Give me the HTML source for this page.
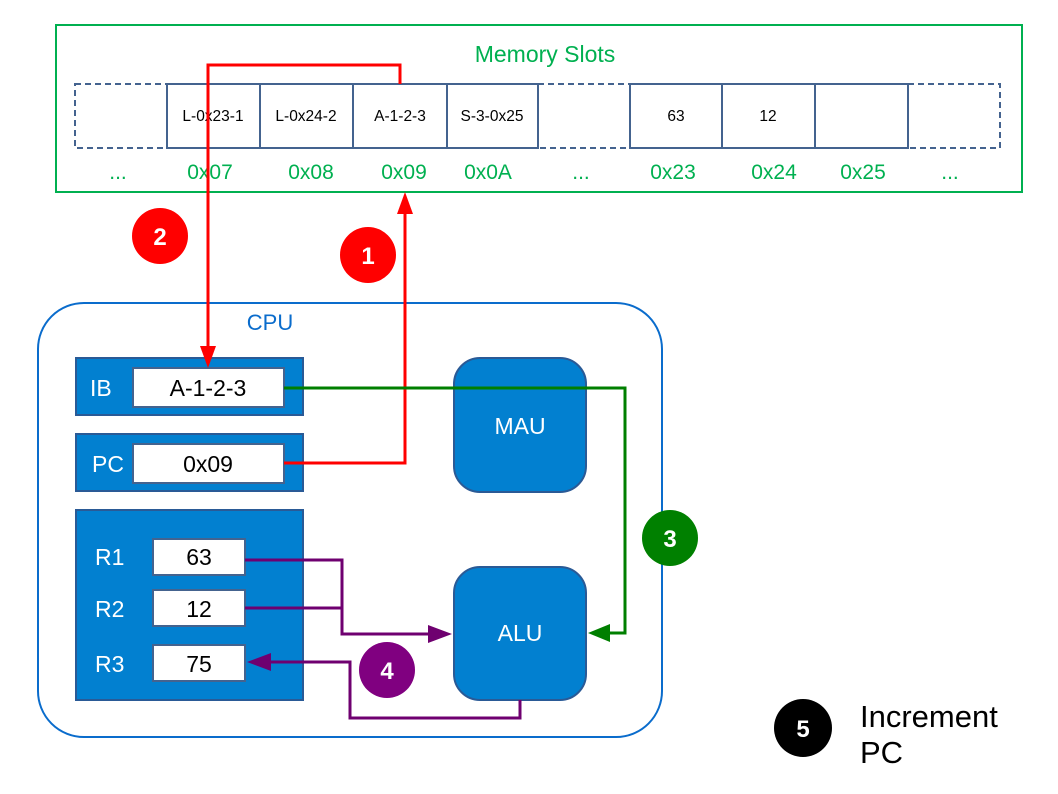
<!DOCTYPE html>
<html><head><meta charset="utf-8"><style>
html,body{margin:0;padding:0;background:#fff;}
svg{display:block;font-family:"Liberation Sans",sans-serif;}
</style></head><body>
<svg width="1058" height="794" viewBox="0 0 1058 794" xmlns="http://www.w3.org/2000/svg">
<!-- Memory -->
<rect x="56" y="25" width="966" height="167" fill="#fff" stroke="#00b050" stroke-width="2"/>
<text x="545" y="62" font-size="23" fill="#00b050" text-anchor="middle">Memory Slots</text>
<g stroke="#44638f" stroke-width="2" fill="#fff">
<rect x="75" y="84" width="92" height="64" stroke-dasharray="6,4"/>
<rect x="538" y="84" width="92" height="64" stroke-dasharray="6,4"/>
<rect x="908" y="84" width="92" height="64" stroke-dasharray="6,4"/>
<rect x="167" y="84" width="93" height="64"/>
<rect x="260" y="84" width="93" height="64"/>
<rect x="353" y="84" width="94" height="64"/>
<rect x="447" y="84" width="91" height="64"/>
<rect x="630" y="84" width="92" height="64"/>
<rect x="722" y="84" width="93" height="64"/>
<rect x="815" y="84" width="93" height="64"/>
</g>
<g font-size="15.5" fill="#000" text-anchor="middle">
<text x="213" y="121">L-0x23-1</text>
<text x="306" y="121">L-0x24-2</text>
<text x="400" y="121">A-1-2-3</text>
<text x="492" y="121">S-3-0x25</text>
<text x="676" y="121">63</text>
<text x="768" y="121">12</text>
</g>
<g font-size="21" fill="#00b050" text-anchor="middle">
<text x="118" y="179">...</text>
<text x="210" y="179">0x07</text>
<text x="311" y="179">0x08</text>
<text x="404" y="179">0x09</text>
<text x="488" y="179">0x0A</text>
<text x="581" y="179">...</text>
<text x="673" y="179">0x23</text>
<text x="774" y="179">0x24</text>
<text x="863" y="179">0x25</text>
<text x="950" y="179">...</text>
</g>
<!-- CPU -->
<rect x="38" y="303" width="624" height="434" rx="46" fill="#fff" stroke="#0a6ccc" stroke-width="2"/>
<text x="270" y="330" font-size="22" fill="#0a6ccc" text-anchor="middle">CPU</text>
<g fill="#0280d0" stroke="#2a5a96" stroke-width="2">
<rect x="76" y="358" width="227" height="57"/>
<rect x="76" y="434" width="227" height="57"/>
<rect x="76" y="510" width="227" height="190"/>
<rect x="454" y="358" width="132" height="134" rx="26"/>
<rect x="454" y="567" width="132" height="133" rx="26"/>
</g>
<g fill="#fff" stroke="#44638f" stroke-width="2">
<rect x="133" y="368" width="151" height="39"/>
<rect x="133" y="444" width="151" height="39"/>
<rect x="153" y="539" width="92" height="36"/>
<rect x="153" y="590" width="92" height="36"/>
<rect x="153" y="645" width="92" height="36"/>
</g>
<g font-size="23" fill="#fff">
<text x="90" y="396">IB</text>
<text x="92" y="472">PC</text>
<text x="95" y="565">R1</text>
<text x="95" y="617">R2</text>
<text x="95" y="672">R3</text>
<text x="520" y="434" text-anchor="middle">MAU</text>
<text x="520" y="641" text-anchor="middle">ALU</text>
</g>
<g font-size="23" fill="#000" text-anchor="middle">
<text x="208" y="396">A-1-2-3</text>
<text x="208" y="472">0x09</text>
<text x="199" y="565">63</text>
<text x="199" y="617">12</text>
<text x="199" y="672">75</text>
</g>
<!-- red arrows -->
<g fill="none" stroke="#ff0000" stroke-width="3">
<polyline points="284,463 405,463 405,212"/>
<polyline points="400,84 400,65 208,65 208,350"/>
</g>
<polygon points="405,192 397,214 413,214" fill="#ff0000"/>
<polygon points="208,368 200,346 216,346" fill="#ff0000"/>
<!-- green -->
<polyline points="284,388 625,388 625,633 606,633" fill="none" stroke="#007f00" stroke-width="3"/>
<polygon points="588,633 610,624 610,642" fill="#007f00"/>
<!-- purple -->
<g fill="none" stroke="#6f0070" stroke-width="3">
<polyline points="245,560 342,560 342,634 432,634"/>
<polyline points="245,608 342,608"/>
<polyline points="520,700 520,718 350,718 350,662 268,662"/>
</g>
<polygon points="452,634 428,625 428,643" fill="#6f0070"/>
<polygon points="247,662 271,653 271,671" fill="#6f0070"/>
<!-- circles -->
<g font-size="24" font-weight="bold" fill="#fff" text-anchor="middle">
<circle cx="160" cy="236" r="28" fill="#ff0000"/><text x="160" y="245">2</text>
<circle cx="368" cy="255" r="28" fill="#ff0000"/><text x="368" y="264">1</text>
<circle cx="670" cy="538" r="28" fill="#008000"/><text x="670" y="547">3</text>
<circle cx="387" cy="670" r="28" fill="#800080"/><text x="387" y="679">4</text>
<circle cx="803" cy="728" r="29" fill="#000"/><text x="803" y="737">5</text>
</g>
<text x="860" y="727" font-size="31" fill="#000">Increment</text>
<text x="860" y="763" font-size="31" fill="#000">PC</text>
</svg>
</body></html>
